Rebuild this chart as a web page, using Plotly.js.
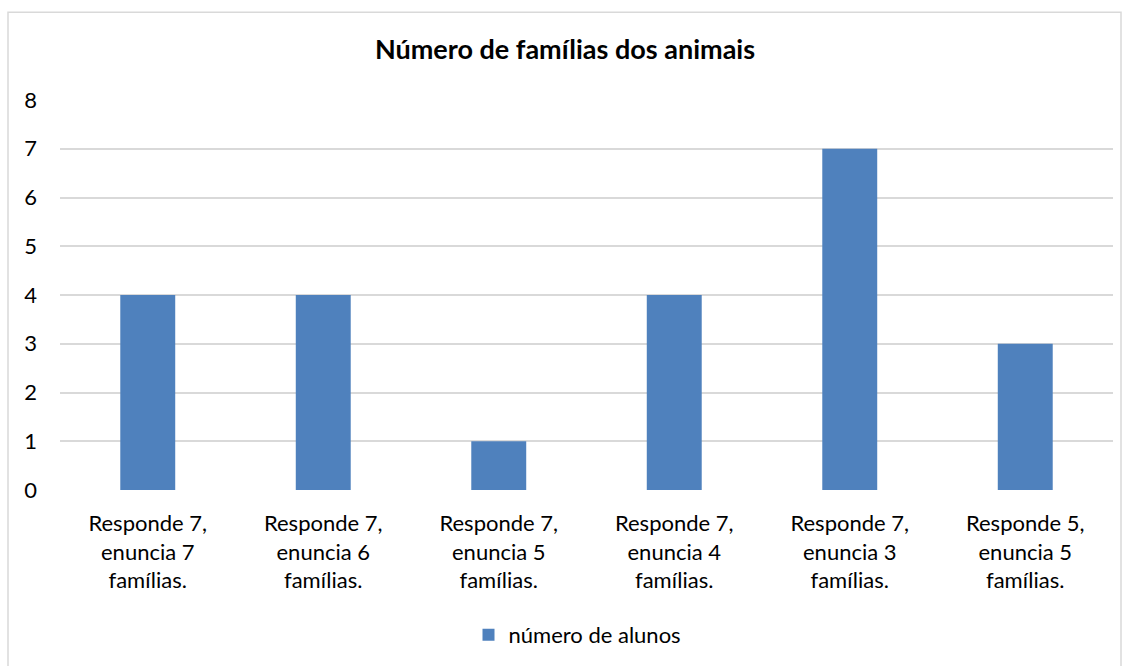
<!DOCTYPE html>
<html>
<head>
<meta charset="utf-8">
<script src="https://cdn.plot.ly/plotly-3.0.1.min.js"></script>
<style>
html,body{margin:0;padding:0;background:#fff;}
#chart{width:1130px;height:666px;}
</style>
</head>
<body>
<div id="chart"></div>
<script>
const categories = [
  "Responde 7,<br>enuncia 7<br>famílias.",
  "Responde 7,<br>enuncia 6<br>famílias.",
  "Responde 7,<br>enuncia 5<br>famílias.",
  "Responde 7,<br>enuncia 4<br>famílias.",
  "Responde 7,<br>enuncia 3<br>famílias.",
  "Responde 5,<br>enuncia 5<br>famílias."
];
const alunos = [4, 4, 1, 4, 7, 3];
const seriesName = "número de alunos";
const chartTitle = "Número de famílias dos animais";
const yTicks = [0, 1, 2, 3, 4, 5, 6, 7, 8];

const font = "Lato, 'Open Sans', sans-serif";
const L = 60, R = 1113, T = 100, B = 491;
const PW = R - L, PH = B - T;

const trace = {
  type: "bar",
  x: categories,
  y: alunos,
  name: seriesName,
  marker: {color: "#4F81BD"},
  hoverinfo: "x+y",
  showlegend: true
};

const layout = {
  width: 1130,
  height: 666,
  paper_bgcolor: "#ffffff",
  plot_bgcolor: "#ffffff",
  margin: {l: L, r: 1130 - R, t: T, b: 666 - B},
  font: {family: font, size: 22, color: "#000000"},
  title: {
    text: "<b>" + chartTitle + "</b>",
    font: {family: font, size: 27, color: "#000000"},
    x: 0.5, xanchor: "center",
    y: 1 - 50/666, yanchor: "middle"
  },
  bargap: 0.687,
  xaxis: {
    type: "category",
    showgrid: false,
    zeroline: false,
    showline: false,
    ticks: "",
    tickfont: {family: font, size: 22, color: "#000000"},
    ticklabelstandoff: 18
  },
  yaxis: {
    range: [0, 8],
    tickvals: yTicks,
    ticktext: yTicks.map(String),
    showgrid: true,
    gridcolor: "#D9D9D9",
    gridwidth: 1.5,
    zeroline: false,
    showline: false,
    ticks: "",
    tickfont: {family: font, size: 22, color: "#000000"},
    ticklabelstandoff: 22
  },
  showlegend: true,
  legend: {
    orientation: "h",
    x: 0.5 - 9 / PW, xanchor: "center",
    y: (B - 635) / PH, yanchor: "middle",
    font: {family: font, size: 22, color: "#000000"},
    itemwidth: 30
  },
  shapes: [{
    type: "rect",
    xref: "paper", yref: "paper",
    x0: (8 - L) / PW, x1: (1121 - L) / PW,
    y0: (B - 680) / PH, y1: (B - 12) / PH,
    line: {color: "#D9D9D9", width: 1.5},
    fillcolor: "rgba(0,0,0,0)",
    layer: "below"
  }]
};

Plotly.newPlot("chart", [trace], layout, {displayModeBar: false, responsive: false});
</script>
</body>
</html>
